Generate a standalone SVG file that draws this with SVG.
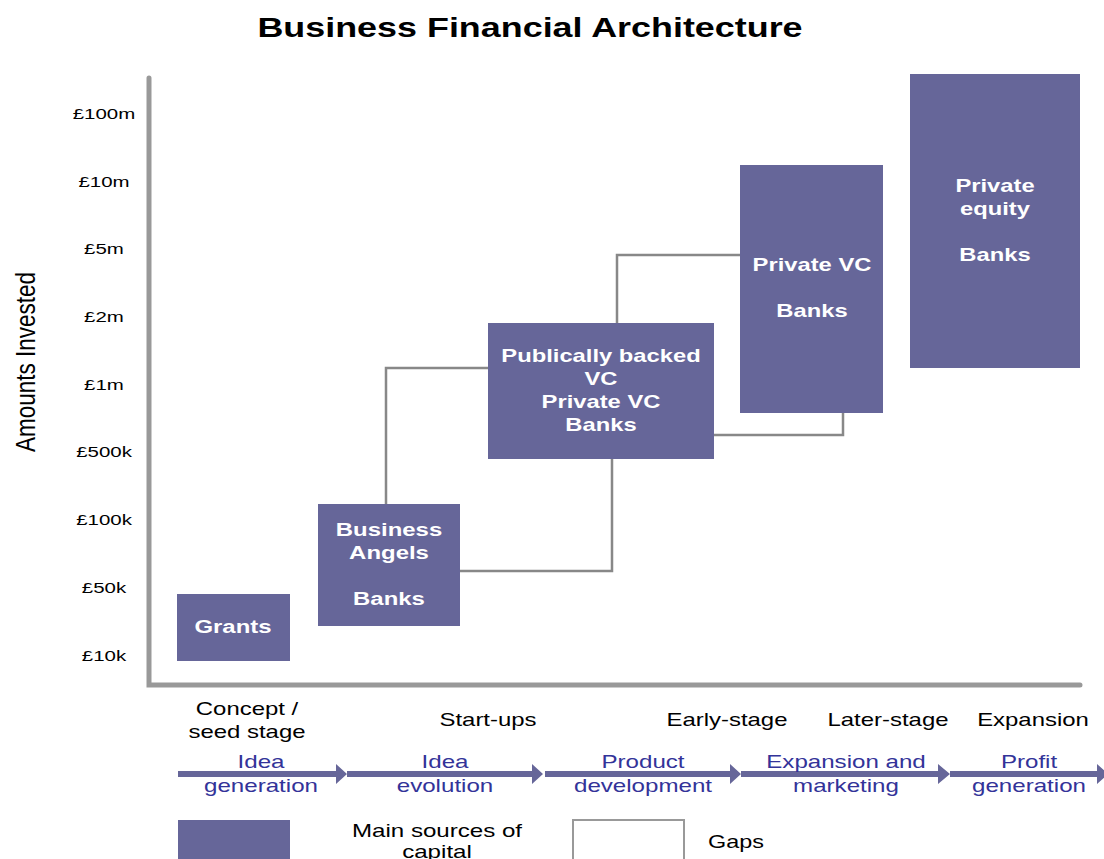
<svg xmlns="http://www.w3.org/2000/svg" width="1104" height="859" viewBox="0 0 1104 859">
<style>
.box{fill:#666699}
.bt{font-family:"Liberation Sans",Arial,sans-serif;font-weight:bold;font-size:19px;fill:#fff;text-anchor:middle}
.yl{font-family:"Liberation Sans",Arial,sans-serif;font-size:15.5px;fill:#000;text-anchor:middle}
.st{font-family:"Liberation Sans",Arial,sans-serif;font-size:18px;fill:#000;text-anchor:middle}
.ph{font-family:"Liberation Sans",Arial,sans-serif;font-size:18px;fill:#333399;text-anchor:middle}
.gap{fill:none;stroke:#888;stroke-width:2.5}
.axis{fill:none;stroke:#999;stroke-width:5;stroke-linecap:round}
.arr{fill:#666699}
</style>
<rect width="1104" height="859" fill="#fff"/>
<text transform="translate(530,37) scale(1.33,1)" font-family="Liberation Sans,Arial,sans-serif" font-weight="bold" font-size="27" text-anchor="middle">Business Financial Architecture</text>

<g id="axes">
<path class="axis" d="M149,78 V685 H1080"/>
</g>
<g id="ylabels">
<text class="yl" transform="translate(104,119) scale(1.32,1)">£100m</text>
<text class="yl" transform="translate(104,187) scale(1.32,1)">£10m</text>
<text class="yl" transform="translate(104,254) scale(1.32,1)">£5m</text>
<text class="yl" transform="translate(104,322) scale(1.32,1)">£2m</text>
<text class="yl" transform="translate(104,390) scale(1.32,1)">£1m</text>
<text class="yl" transform="translate(104,457) scale(1.32,1)">£500k</text>
<text class="yl" transform="translate(104,525) scale(1.32,1)">£100k</text>
<text class="yl" transform="translate(104,593) scale(1.32,1)">£50k</text>
<text class="yl" transform="translate(104,661) scale(1.32,1)">£10k</text>
<text transform="translate(35,362) scale(1.33,1) rotate(-90)" font-family="Liberation Sans,Arial,sans-serif" font-size="21" text-anchor="middle" textLength="180" lengthAdjust="spacingAndGlyphs">Amounts Invested</text>
</g>

<g id="connectors">
<path class="gap" d="M386,504 V368 H488"/>
<path class="gap" d="M460,571 H612 V459"/>
<path class="gap" d="M617,323 V255 H740"/>
<path class="gap" d="M714,435 H843 V413"/>
</g>

<g id="grants">
<rect class="box" x="177" y="594" width="113" height="67"/>
<text class="bt" transform="translate(233,633) scale(1.26,1)">Grants</text>
</g>
<g id="angels">
<rect class="box" x="318" y="504" width="142" height="122"/>
<text class="bt" transform="translate(389,536) scale(1.26,1)">Business</text>
<text class="bt" transform="translate(389,559) scale(1.26,1)">Angels</text>
<text class="bt" transform="translate(389,605) scale(1.26,1)">Banks</text>
</g>
<g id="publicvc">
<rect class="box" x="488" y="323" width="226" height="136"/>
<text class="bt" transform="translate(601,362) scale(1.25,1)">Publically backed</text>
<text class="bt" transform="translate(601,385) scale(1.25,1)">VC</text>
<text class="bt" transform="translate(601,408) scale(1.25,1)">Private VC</text>
<text class="bt" transform="translate(601,431) scale(1.25,1)">Banks</text>
</g>
<g id="privatevc">
<rect class="box" x="740" y="165" width="143" height="248"/>
<text class="bt" transform="translate(812,271) scale(1.25,1)">Private VC</text>
<text class="bt" transform="translate(812,317) scale(1.25,1)">Banks</text>
</g>
<g id="equity">
<rect class="box" x="910" y="74" width="170" height="294"/>
<text class="bt" transform="translate(995,192) scale(1.25,1)">Private</text>
<text class="bt" transform="translate(995,215) scale(1.25,1)">equity</text>
<text class="bt" transform="translate(995,261) scale(1.25,1)">Banks</text>
</g>

<g id="stages">
<text class="st" transform="translate(247,715) scale(1.33,1)">Concept /</text>
<text class="st" transform="translate(247,738) scale(1.33,1)">seed stage</text>
<text class="st" transform="translate(488,726) scale(1.33,1)">Start-ups</text>
<text class="st" transform="translate(727,726) scale(1.33,1)">Early-stage</text>
<text class="st" transform="translate(888,726) scale(1.33,1)">Later-stage</text>
<text class="st" transform="translate(1033,726) scale(1.33,1)">Expansion</text>
</g>

<g id="phases">
<path class="arr" d="M178,771 H336 V764 L347,774 L336,784 V777 H178 Z"/>
<path class="arr" d="M347,771 H532 V764 L543,774 L532,784 V777 H347 Z"/>
<path class="arr" d="M545,771 H730 V764 L741,774 L730,784 V777 H545 Z"/>
<path class="arr" d="M741,771 H938 V764 L950,774 L938,784 V777 H741 Z"/>
<path class="arr" d="M950,771 H1097 V764 L1108,774 L1097,784 V777 H950 Z"/>
<text class="ph" transform="translate(261,768) scale(1.34,1)">Idea</text>
<text class="ph" transform="translate(261,792) scale(1.34,1)">generation</text>
<text class="ph" transform="translate(445,768) scale(1.34,1)">Idea</text>
<text class="ph" transform="translate(445,792) scale(1.34,1)">evolution</text>
<text class="ph" transform="translate(643,768) scale(1.34,1)">Product</text>
<text class="ph" transform="translate(643,792) scale(1.34,1)">development</text>
<text class="ph" transform="translate(846,768) scale(1.34,1)">Expansion and</text>
<text class="ph" transform="translate(846,792) scale(1.34,1)">marketing</text>
<text class="ph" transform="translate(1029,768) scale(1.34,1)">Profit</text>
<text class="ph" transform="translate(1029,792) scale(1.34,1)">generation</text>
</g>

<g id="legend">
<rect class="box" x="178" y="820" width="112" height="45"/>
<text class="st" transform="translate(437,837) scale(1.34,1)">Main sources of</text>
<text class="st" transform="translate(437,858) scale(1.34,1)">capital</text>
<rect x="573" y="820" width="111" height="45" fill="#fff" stroke="#999" stroke-width="2"/>
<text class="st" transform="translate(736,848) scale(1.3,1)">Gaps</text>
</g>
</svg>
